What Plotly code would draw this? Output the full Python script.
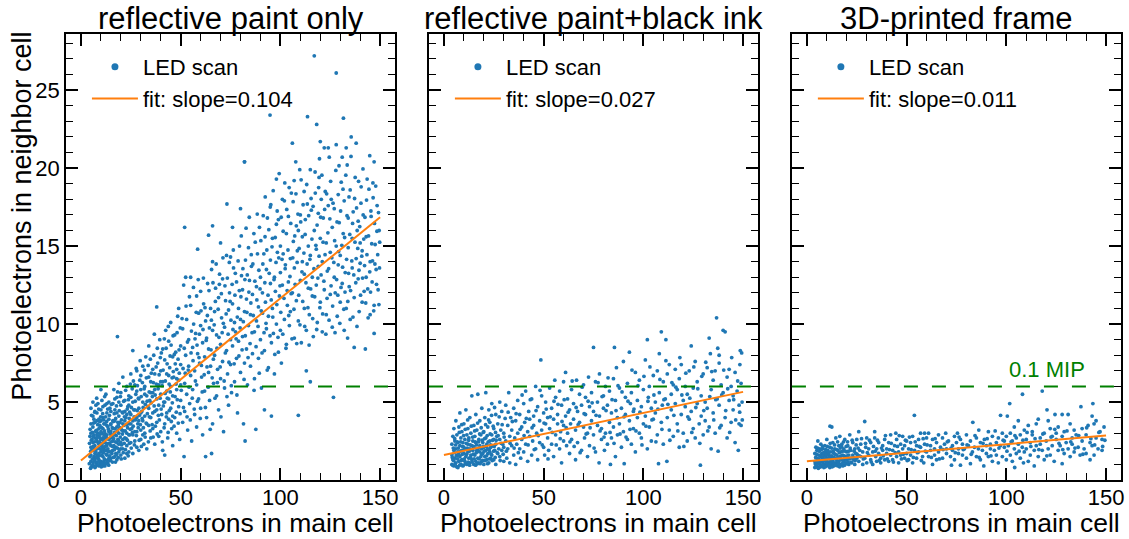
import plotly.graph_objects as go

# ---------------- data ----------------
titles = ["reflective paint only", "reflective paint+black ink", "3D-printed frame"]
slopes = [0.104, 0.027, 0.011]
intercepts = [1.25, 1.6, 1.2]
fit_x = [0, 150]
mip_level = 6.0
mip_label = "0.1 MIP"
x_ticks = [0, 50, 100, 150]
y_ticks = [0, 5, 10, 15, 20, 25]

pts_paint = [
    (5,1.2),(5,2.1),(5,3.0),(5,1.6),(5,4.6),(5.5,2.6),(5.5,0.9),(6,1.9),(6,3.4),(6,2.4),(6,1.1),(6,4.1),(6.5,2.9),(6.5,1.5),
    (7,2.2),(7,3.7),(7,1.3),(7,0.8),(7,2.7),(7.5,4.8),(7.5,1.8),(8,2.5),(8,3.2),(8,1.0),(8,2.0),(8,4.3),(8.5,1.4),(8.5,3.0),
    (9,2.3),(9,1.7),(9,3.9),(9,2.8),(9,0.9),(9.5,2.0),(9.5,3.5),(10,1.2),(10,2.6),(10,4.5),(10,3.1),(10,1.8),(10.5,2.2),(10.5,5.1),
    (11,1.5),(11,3.3),(11,2.7),(11,0.9),(11,4.0),(11.5,2.0),(11.5,3.6),(12,1.3),(12,2.4),(12,4.8),(12,3.0),(12,1.9),(12.5,2.8),(12.5,5.5),
    (13,1.6),(13,3.5),(13,2.2),(13,4.3),(13.5,1.1),(14,2.6),(14,3.9),(14,1.8),(14,5.0),(14.5,3.1),(15,2.2),(15,4.4),(15,1.4),(15,3.6),
    (15.5,2.8),(16,1.9),(16,4.9),(16,3.3),(16,2.5),(16.5,5.8),(17,1.5),(17,3.8),(17,2.9),(17,4.5),(17.5,2.1),(18,3.4),(18,1.3),(18,5.3),
    (18.3,9.2),(18.5,2.6),(19,4.1),(19,3.0),(19,1.8),(19,6.2),(19.5,3.7),(20,2.4),(20,4.8),(20,1.6),(20,5.6),(20.5,3.2),(21,2.0),(21,4.3),
    (21,6.6),(21.5,3.5),(22,2.7),(22,5.1),(22,1.4),(22.5,4.0),(23,3.0),(23,6.0),(23,2.2),(23.5,4.7),(24,3.6),(24,1.8),(24,5.4),(24.5,2.9),
    (4.5,1.5),(4.5,2.8),(5,0.8),(5,3.6),(5.5,1.9),(6,0.9),(6,2.8),(6,5.0),(6.5,3.9),(6.5,2.0),(7,1.7),(7,4.4),(7.5,3.1),(7.5,1.1),
    (8,2.9),(8,1.6),(8,3.8),(8.5,2.4),(8.5,4.9),(9,1.3),(9,3.3),(9.5,2.7),(9.5,1.0),(10,2.2),(10,3.8),(10,5.8),(10.5,1.6),(10.5,3.0),
    (11,2.1),(11,4.7),(11.5,1.2),(11.5,2.9),(12,2.7),(12,3.6),(12,0.9),(12.5,1.9),(13,2.9),(13,4.9),(13.5,3.4),(13.5,2.0),(14,1.4),(14,3.1),
    (14.5,4.6),(15,2.7),(15,3.1),(15.5,1.7),(16,2.9),(16,3.8),(16.5,2.2),(17,3.3),(17,5.2),(17.5,1.7),(18,2.4),(18,4.3),(18.5,3.7),(19,2.3),
    (19,5.0),(20,3.3),(20,2.0),(21,3.6),(21,2.6),(22,3.8),(22,4.4),(23,1.7),(23,4.2),(24,2.9),(24,4.8),(25,3.6),(25,5.3),(26,2.9),
    (26,3.8),(27,4.5),(28,3.1),(28,5.7),(29,3.8),(30,4.3),(30,6.7),(31,2.9),(32,5.5),(33,3.6),(34,4.6),(35,5.6),(36,4.3),(37,5.8),
    (38,4.5),(40,6.3),(42,5.0),(44,6.7),(46,4.1),(48,6.5),(50,6.1),
    (4.2,1.05),(4.3,2.35),(4.6,3.25),(4.8,0.75),(4.9,1.85),(5.2,2.55),(5.3,4.15),(5.7,1.35),(5.8,3.05),(6.1,0.95),(6.2,2.15),(6.3,3.65),
    (6.7,1.25),(6.8,2.45),(6.9,4.35),(7.2,0.85),(7.3,1.95),(7.4,3.15),(7.7,2.65),(7.8,1.45),(7.9,5.25),(8.2,1.15),(8.3,2.75),(8.4,3.55),
    (8.7,0.95),(8.8,2.05),(8.9,4.55),(9.2,1.55),(9.3,2.45),(9.4,3.75),(9.7,1.15),(9.8,2.95),(9.9,4.05),(10.2,0.85),(10.3,1.95),(10.4,3.35),
    (10.7,2.35),(10.8,1.05),(10.9,4.25),(11.2,1.75),(11.3,2.55),(11.4,3.85),(11.7,1.35),(11.8,3.15),(11.9,5.35),(12.2,2.15),(12.3,1.05),(12.4,4.05),
    (12.7,1.65),(12.8,2.35),(12.9,3.75),(13.2,1.25),(13.3,2.65),(13.4,4.55),(13.7,1.85),(13.8,3.25),(13.9,0.95),(14.2,2.35),(14.3,4.15),(14.4,1.55),
    (14.7,2.95),(14.8,1.25),(14.9,3.55),(15.2,2.45),(15.3,4.85),(15.4,1.85),(15.7,3.35),(15.8,1.15),(15.9,2.15),(16.2,3.75),(16.3,1.45),(16.4,2.65),
    (16.7,4.25),(16.8,1.95),(16.9,3.05),(17.2,2.45),(17.3,1.15),(17.4,3.95),(17.7,2.85),(17.8,4.75),(17.9,1.65),(18.2,3.15),(18.3,2.05),(18.4,5.65),
    (18.7,1.45),(18.8,3.55),(18.9,2.55),(19.2,4.45),(19.3,1.95),(19.4,3.35),(19.7,2.75),(19.8,5.35),(20.2,1.35),(20.3,3.85),(20.4,2.25),(20.7,4.35),
    (20.8,2.95),(21.2,1.75),(21.3,3.15),(21.4,5.05),(21.7,2.35),(21.8,4.05),(22.2,3.15),(22.3,1.95),(22.4,5.75),(22.7,2.65),(22.8,3.55),(23.2,4.55),
    (23.3,2.55),(23.4,3.35),(23.7,1.55),(23.8,5.15),(24.2,3.95),(24.3,2.35),(24.4,4.35),(24.7,3.25),(24.8,6.15),
    (25,4.2),(25,6.8),(25,2.4),(25.5,3.3),(26,5.0),(26,8.3),(26,1.7),(26.5,4.5),(27,3.1),(27,6.1),(27,2.5),(27.5,5.5),(28,4.0),(28,7.0),
    (28,2.1),(28.5,3.6),(29,5.2),(29,4.6),(29,1.9),(29.5,6.4),(30,3.2),(30,5.8),(30,2.6),(30.5,4.4),(31,7.3),(31,3.8),(31,5.0),(31.5,2.3),
    (32,6.0),(32,4.1),(32,3.0),(32.5,7.9),(33,5.4),(33,2.0),(33.5,4.7),(34,6.6),(34,3.5),(34,8.6),(34.5,5.1),(35,2.7),(35,4.0),(35,6.3),
    (36,7.1),(36,3.3),(36,5.6),(36.5,8.0),(37,4.4),(37,2.3),(37,6.8),(38,11.1),(38,5.2),(38,3.7),(38.5,7.5),(39,4.8),(39,6.1),(39,2.8),
    (39.5,9.0),(40,5.5),(40,3.1),(40,7.0),(40.5,4.2),(41,8.4),(41,6.3),(41,1.9),(41.5,5.0),(42,3.6),(42,7.7),(42,1.6),(42.5,9.6),(43,5.7),
    (43,4.3),(43,6.8),(43.5,2.7),(44,8.9),(44,5.2),(44,3.9),(44.5,7.2),(45,6.0),(45,4.6),(45,10.1),(45.5,3.3),(46,7.9),(46,5.4),(46,2.2),
    (46.5,6.6),(47,9.3),(47,4.0),(47.5,8.2),(48,5.8),(48,3.0),(48,7.1),(48.5,10.5),(49,11.0),(49,4.7),(49,6.4),(49.5,2.6),(50,8.6),(50,5.1),
    (25.2,2.05),(25.3,4.65),(25.7,5.85),(25.8,3.05),(26.2,3.45),(26.3,6.35),(26.7,4.05),(26.8,2.25),(27.2,5.05),(27.3,3.85),(27.7,7.15),(27.8,2.85),
    (28.2,4.45),(28.3,6.05),(28.7,3.35),(28.8,5.25),(29.2,2.55),(29.3,4.15),(29.7,7.65),(29.8,3.55),(30.2,5.35),(30.3,2.15),(30.7,3.95),(30.8,6.25),
    (31.2,4.65),(31.3,3.35),(31.7,5.85),(31.8,7.05),(32.2,2.75),(32.3,4.85),(32.7,3.65),(32.8,6.55),(33.2,5.05),(33.3,4.25),(33.7,7.35),(33.8,2.45),
    (34.2,5.65),(34.3,4.05),(34.7,3.15),(34.8,7.75),(35.2,4.95),(35.3,6.85),(35.7,3.55),(35.8,5.35),(36.2,2.75),(36.3,6.25),(36.7,4.75),(36.8,9.35),
    (37.2,5.45),(37.3,3.45),(37.7,7.25),(37.8,6.15),(38.2,2.95),(38.3,8.45),(38.7,5.85),(38.8,4.15),(39.2,6.75),(39.3,3.85),(39.7,5.25),(39.8,7.85),
    (40.2,4.55),(40.3,8.15),(40.7,6.05),(40.8,2.45),(41.2,7.05),(41.3,4.75),(41.7,3.35),(41.8,9.05),(42.2,5.55),(42.3,6.35),(42.7,8.45),(42.8,4.05),
    (43.2,7.45),(43.3,5.25),(43.7,3.05),(43.8,9.85),(44.2,6.15),(44.3,4.45),(44.7,7.95),(44.8,5.65),(45.2,8.65),(45.3,3.75),(45.7,6.55),(45.8,4.95),
    (46.2,9.25),(46.3,6.95),(46.7,3.45),(46.8,8.05),(47.2,5.35),(47.3,7.45),(47.7,6.15),(47.8,4.35),(48.2,9.45),(48.3,5.15),(48.7,7.75),(48.8,3.65),
    (49.2,8.35),(49.3,6.85),(49.7,4.25),(49.8,9.75),
    (50,7.4),(51,3.7),(51,9.7),(51.5,12.5),(51.7,1.5),(52,6.2),(52,4.4),(52.5,13.0),(52.5,8.0),(53,10.3),(53,5.5),(53.5,3.2),(54,7.3),(54,9.0),
    (54.5,4.9),(55,13.0),(55,6.7),(55,11.2),(55.5,2.5),(56,8.5),(56,5.8),(56.5,10.0),(57,7.0),(57,4.2),(57.5,9.4),(58,6.1),(58,11.8),(58,3.4),
    (58.5,8.1),(59,5.2),(59,10.7),(59.5,7.5),(60,9.9),(60,4.6),(60,12.1),(60.5,6.6),(61,8.8),(61,2.9),(61.5,11.3),(62,5.7),(62,7.9),(62.5,1.5),
    (62.5,10.2),(63,9.1),(63,4.0),(63.5,12.6),(64,6.9),(64,8.4),(64.5,5.1),(65,11.0),(65,7.3),(65.5,13.5),(65.5,1.7),(66,14.0),(66,9.6),(66,3.6),
    (52,16.2),(73.2,17.7),(64,15.7),(66,16.3),(70,15.2),(58.5,14.8),(76,16.2),
    (50.3,5.75),(50.7,10.35),(51.2,7.15),(51.4,4.65),(51.8,8.45),(52.3,6.85),(52.7,11.15),(53.2,4.05),(53.4,8.85),(53.8,7.05),(54.2,5.95),(54.4,11.75),
    (54.8,3.85),(55.2,8.15),(55.4,9.55),(55.8,5.25),(56.2,7.65),(56.4,12.35),(56.8,4.55),(57.2,9.05),(57.4,6.35),(57.8,10.75),(58.2,8.65),(58.4,5.05),
    (58.8,12.85),(59.2,7.85),(59.4,9.35),(59.8,3.95),(60.2,10.85),(60.4,7.35),(60.8,5.65),(61.2,9.65),(61.4,12.95),(61.8,6.75),(62.2,11.05),(62.4,4.65),
    (62.8,8.95),(63.2,7.25),(63.4,10.55),(63.8,5.95),(64.2,12.15),(64.4,9.75),(64.8,3.25),(65.2,8.35),(65.4,10.25),(65.8,6.55),(66.2,12.65),(66.4,7.75),
    (66.8,9.95),(67.2,5.25),(67.4,11.45),(67.8,13.85),(68.2,8.45),(68.4,6.25),(68.8,10.95),(69.2,9.15),(69.4,12.55),(69.8,7.25),(70.2,4.05),(70.4,11.95),
    (70.8,9.45),(71.2,14.25),(71.4,10.05),(71.8,6.35),(72.2,12.45),(72.4,8.15),(72.8,10.65),(73.2,5.35),(73.4,12.95),(73.8,9.35),(74.2,7.55),(74.4,13.95),
    (74.8,11.45),(75.2,10.25),(75.4,6.05),(75.8,12.55),(76.2,9.65),(76.4,14.75),(76.8,7.45),(77.2,11.85),(77.4,13.25),(77.8,9.05),(78.2,5.45),(78.4,10.45),
    (78.8,14.05),(79.2,7.95),(79.4,12.15),(79.8,9.75),(80.2,11.75),(80.4,15.65),(80.8,8.35),(81.2,13.55),(81.4,10.15),(81.8,6.45),(82.2,12.85),(82.4,9.25),
    (82.8,16.15),(83.2,10.75),(83.4,13.15),(83.8,7.85),(84.2,12.05),(84.4,16.85),(84.8,8.75),(85.2,11.35),(85.4,14.45),(85.8,9.45),(86.2,13.85),(86.4,10.55),
    (86.8,5.75),(87.2,12.75),(87.4,15.25),(87.8,8.55),(88.2,11.55),(88.4,17.05),(88.8,9.85),(89.2,13.45),(89.4,6.85),(89.8,12.25),
    (66.5,6.2),(67,10.8),(67,8.0),(67.5,12.3),(68,5.4),(68,9.3),(68.5,7.1),(69,11.7),(69,4.5),(69.5,13.2),(70,8.7),(70,6.5),(70.5,10.4),(71,12.9),
    (71,7.6),(71.5,3.1),(72,9.8),(72,5.9),(72.5,11.5),(73,8.3),(73,14.4),(73.5,6.8),(74,10.9),(74,4.8),(74.5,12.0),(75,9.0),(75,7.4),(75,14.3),
    (75.5,5.6),(76,11.3),(76,8.6),(76.5,13.6),(77,6.3),(77,10.1),(77.5,9.5),(78,12.7),(78,7.8),(78.5,4.3),(79,11.0),(79,8.9),(79.5,15.0),(80,10.3),
    (80,6.9),(80,17.4),(80.5,13.1),(81,9.2),(81,12.2),(81.5,3.6),(82,20.4),(82,10.8),(82,7.5),(82.3,2.5),(82.5,14.1),(83,8.4),(83,11.6),(83.5,6.1),
    (84,14.9),(84,9.9),(84.5,12.8),(85,7.3),(85,10.6),
    (85.5,13.7),(86,8.1),(86,11.9),(86.7,15.8),(87,6.5),(87,9.5),(87.7,3.25),(88,12.4),(88,10.2),(88.5,14.5),(89,7.8),(89,11.1),(89.5,16.2),(90,9.0),
    (90,13.0),(90.5,5.9),(91,10.7),(91,12.0),(91.7,14.5),(92,8.3),(92,4.5),(92.3,15.6),(92.5,11.4),(93,9.7),(93,13.5),(93.5,16.8),(94,7.2),(94,10.5),
    (94.9,17.5),(95,12.6),(95,14.1),(95.5,4.1),(95.5,8.8),(96,11.0),(96,15.5),(96.5,9.4),(97,13.0),(97,6.8),(97.5,12.1),(98,16.4),(98,19.3),(98,10.0),
    (98.5,14.6),(99,8.2),(99,16.7),(99.5,11.8),(100,13.3),(100,9.6),(100,15.0),(100.5,7.5),(101,12.5),(101,18.0),(101.4,14.5),(102,17.9),(102,10.3),(102.5,13.8),
    (103,8.7),(103,15.8),(103.5,11.2),(104,16.9),(104,12.7),(104.5,9.9),(105,14.2),(105,10.8),
    (90.2,15.35),(90.4,10.85),(90.8,8.15),(91.2,13.85),(91.4,16.95),(91.8,9.45),(92.2,12.65),(92.4,18.15),(92.8,10.05),(93.2,14.75),(93.4,7.05),(93.8,11.85),
    (94.2,16.05),(94.4,13.25),(94.8,9.25),(95.2,17.65),(95.4,11.55),(95.8,14.95),(96.2,10.45),(96.4,18.55),(96.8,12.85),(97.2,8.05),(97.4,15.55),(97.8,13.95),
    (98.2,11.25),(98.4,17.25),(98.8,9.15),(99.2,14.25),(99.4,19.65),(99.8,12.45),(100.2,10.75),(100.4,16.85),(100.8,14.15),(101.2,9.35),(101.4,15.95),(101.8,11.65),
    (102.2,19.05),(102.4,13.55),(102.8,8.45),(103.2,17.35),(103.4,12.15),(103.8,14.75),(104.2,10.55),(104.4,18.75),(104.8,13.05),(105.2,16.45),(105.4,11.95),(105.8,9.05),
    (106.2,14.25),(106.4,17.85),(106.8,10.95),(107.2,15.65),(107.4,12.55),(107.8,18.35),(108.2,8.75),(108.4,13.95),(108.8,17.05),(109.2,11.85),(109.4,14.85),(109.8,9.95),
    (110.2,16.55),(110.4,19.25),(110.8,13.35),(111.2,11.45),(111.4,17.65),(111.8,14.55),(112.2,9.85),(112.4,15.75),(112.8,12.65),(113.2,18.95),(113.4,13.85),(113.8,11.05),
    (114.2,16.95),(114.4,8.65),(114.8,14.15),(115.2,12.25),(115.4,18.05),(115.8,15.45),(116.2,10.35),(116.4,17.55),(116.8,13.55),(117.2,11.75),(117.4,19.75),(117.8,15.05),
    (118.2,9.65),(118.4,16.35),(118.8,12.95),(119.2,18.75),(119.4,14.35),(119.8,11.05),(120.2,16.85),(120.4,13.15),(120.8,19.55),(121.2,10.65),(121.4,15.25),(121.8,12.75),
    (122.2,17.35),(122.4,14.45),(122.8,9.35),(123.2,18.35),(123.4,11.65),(123.8,15.85),(124.2,13.55),(124.4,10.25),(124.8,16.75),(125.2,19.15),(125.4,12.45),(125.8,14.25),
    (126.2,11.15),(126.4,17.75),(126.8,13.95),(127.2,15.35),(127.4,9.45),(127.8,19.85),(128.2,12.85),(128.4,16.55),(128.8,11.85),(129.2,14.65),(129.4,20.15),(129.8,10.05),
    (130.2,17.25),(130.4,12.35),(130.8,15.05),(131.2,13.65),(131.4,18.65),(131.8,10.95),(132.2,15.55),(132.4,12.05),(132.8,19.55),(133.2,14.15),(133.4,16.95),(133.8,11.45),
    (134.2,13.25),(134.4,18.15),(134.8,15.75),(135.2,12.15),(135.4,20.75),(135.8,14.05),(136.2,16.45),(136.4,10.45),(136.8,13.15),(137.2,18.05),(137.4,15.25),(137.8,12.65),
    (138.2,17.45),(138.4,9.85),(138.8,14.85),(139.2,19.15),(139.4,13.45),(139.8,16.25),(140.2,11.85),(140.4,17.75),(140.8,14.35),(141.2,12.95),(141.4,19.95),(141.8,15.45),
    (142.2,13.75),(142.4,16.85),(142.8,11.35),(143.2,17.95),(143.4,14.45),(143.8,12.25),(144.2,15.65),(144.4,18.65),(144.8,13.35),(145.2,12.05),(145.4,17.25),(145.8,15.15),
    (146.2,14.05),(146.4,19.05),(146.8,10.85),(147.2,16.45),(147.4,13.85),(147.8,18.85),(148.2,12.55),(148.4,15.95),(148.8,14.45),(149.2,17.15),(149.4,11.25),(149.8,15.25),
    (105.5,18.4),(106,21.6),(106,12.0),(106.5,15.3),(106.9,19.2),(107,9.1),(107,13.6),(107.7,20.4),(108,16.3),(108,11.5),(108.5,14.7),(109,4.15),(109,10.2),(109,16.0),
    (109.7,19.9),(110,12.8),(110,17.0),(110.5,8.8),(111,14.0),(111,15.6),(111.9,18.5),(112,11.0),(112,13.2),(112.5,16.7),(113,7.0),(113,9.6),(113.5,17.7),(114,12.3),
    (114,15.0),(114.5,10.6),(115,19.9),(115,6.3),(115,14.4),(115.5,17.3),(116,11.8),(116,13.0),(116.5,9.2),(117,27.2),(117,16.0),(117.5,18.4),(118,12.5),(118,14.8),
    (118.2,22.8),(118.5,10.1),(119,17.1),(119,13.7),(119.4,19.4),(119.6,20.6),(120,11.4),(120,15.5),(120,21.7),(120.5,18.0),(121,9.5),(121,14.0),(121.5,16.8),(122,21.3),
    (122,12.2),(122.5,18.5),(123,10.6),(123,15.2),(123.5,13.4),(124,21.3),(124,17.6),(124.5,20.7),(125,11.9),(125,14.6),
    (125.5,18.0),(126,9.8),(126,16.2),(126.6,5.3),(127,13.0),(127,17.4),(127.5,12.0),(128,21.5),(128,26.1),(128,15.0),(128.5,10.5),(129,18.3),(129,13.8),(129.5,16.5),
    (130,11.4),(130,14.4),(130.5,19.1),(131,20.7),(131,12.6),(131.5,15.8),(132,9.6),(132,17.9),(132.5,13.3),(133,21.3),(133,11.0),(133.5,20.2),(133.7,9.1),(134,14.9),
    (134,16.8),(134.5,12.4),(135,18.6),(135.5,22.0),(135,10.3),(136,15.5),(136,13.6),(136.5,17.2),(137,8.5),(137,11.7),(137.5,19.4),(138,21.6),(138,14.2),(138.5,16.0),
    (139,12.9),(139,16.6),(139.5,10.8),(140,15.2),(140,13.9),(140.5,18.8),(141,11.4),(141,14.7),(141.5,17.0),(142,12.1),(142.6,8.4),(143,15.6),(143,13.0),(143.5,19.3),
    (144,10.4),(144.8,20.8),(145,10.6),(145,14.0),(145.5,16.9),(146,12.7),(146.5,18.1),(147,20.4),(147,11.2),(147,9.4),(147.5,15.1),(148,13.5),(148.5,17.6),(149,12.2),
    (149.7,13.6),(149.5,16.0),(131.6,23.2),(113.6,23.3),(94.8,23.4),(82,20.4),
]

pts_ink = [
    (4,1.0),(4,1.6),(4,2.3),(4.5,1.3),(4.5,2.8),(5,0.9),(5,1.9),(5,3.3),(5.5,1.4),(5.5,2.5),(6,1.1),(6,2.0),(6,3.8),(6.5,1.6),(6.5,2.9),
    (7,0.8),(7,1.8),(7,2.4),(7.5,1.2),(7.5,3.4),(8,1.5),(8,2.2),(8,4.3),(8.5,1.0),(8.5,2.7),(9,1.9),(9,1.3),(9,3.1),(9.5,2.4),(9.5,0.9),
    (10,1.7),(10,2.1),(10,3.6),(10.5,1.2),(10.5,2.6),(11,1.5),(11,2.0),(11,4.5),(11.5,2.9),(11.5,1.0),(12,1.8),(12,2.3),(12,3.3),(12.5,1.4),
    (12.5,2.7),(13,1.1),(13,2.0),(13,4.0),(13.5,1.6),(13.5,3.0),(14,2.2),(14,1.3),(14,5.4),(14.5,2.5),(14.5,1.9),(15,1.0),(15,3.5),(15,2.1),
    (15.5,1.6),(15.5,2.8),(16,1.2),(16,2.4),(16,4.2),(16.5,1.9),(16.5,3.2),(17,1.4),(17,2.0),(17,5.5),(17.5,2.6),(17.5,1.1),(18,1.8),(18,2.2),
    (18,3.8),(18.5,1.5),(18.5,2.9),(19,2.0),(19,1.2),(19,4.6),(19.5,2.4),(19.5,1.7),(20,1.0),(20,3.1),(20,2.1),(20.5,1.5),(20.5,4.0),(21,2.7),
    (21,1.9),(21,5.6),(21.5,1.3),(21.5,2.3),(22,3.4),(22,1.7),(22,2.0),(22.5,4.5),(22.5,1.1),(23,2.5),(23,1.8),(23,3.7),(23.5,2.1),(23.5,1.4),
    (24,2.9),(24,4.9),(24,1.6),(24.5,2.2),(25,3.3),(25,1.3),(25,2.6),(25.5,1.9),(26,4.2),(26,2.3),(26,1.0),(26.5,2.8),(27,1.7),(27,3.6),
    (27.5,2.0),(28,5.0),(28,1.5),(28,2.6),(28.5,3.2),(29,1.9),(29,4.4),(29.5,2.3),(30,1.2),(30,3.0),(30,2.1),
    (4.2,1.45),(4.4,0.95),(4.7,2.05),(4.9,1.25),(5.2,1.75),(5.4,2.65),(5.7,1.05),(5.9,2.25),(6.2,1.55),(6.4,0.85),(6.7,2.45),(6.9,1.35),
    (7.2,2.05),(7.4,1.65),(7.7,3.05),(7.9,0.95),(8.2,1.85),(8.4,2.45),(8.7,1.25),(8.9,3.55),(9.2,1.65),(9.4,2.15),(9.7,0.95),(9.9,2.85),
    (10.2,1.35),(10.4,1.95),(10.7,3.25),(10.9,1.05),(11.2,2.35),(11.4,1.65),(11.7,2.05),(11.9,3.85),(12.2,1.15),(12.4,2.55),(12.7,1.85),(12.9,0.95),
    (13.2,2.25),(13.4,1.45),(13.7,3.45),(13.9,1.95),(14.2,1.15),(14.4,2.75),(14.7,1.65),(14.9,2.15),(15.2,1.35),(15.4,3.15),(15.7,2.45),(15.9,0.95),
    (16.2,1.75),(16.4,2.25),(16.7,1.05),(16.9,3.65),(17.2,1.85),(17.4,2.45),(17.7,1.35),(17.9,2.95),(18.2,1.05),(18.4,2.05),(18.7,3.35),(18.9,1.65),
    (19.2,2.55),(19.4,1.25),(19.7,3.05),(19.9,2.15),(20.2,1.85),(20.4,2.65),(20.7,1.25),(20.9,3.55),(21.2,2.15),(21.4,1.55),(21.7,2.85),(21.9,1.05),
    (22.2,2.45),(22.4,3.85),(22.7,1.95),(22.9,1.35),(23.2,2.95),(23.4,2.25),(23.7,1.65),(23.9,4.15),(24.2,1.25),(24.4,2.55),(24.7,3.45),(24.9,1.85),
    (25.2,2.15),(25.4,4.65),(25.7,1.45),(25.9,3.05),(26.2,2.55),(26.7,1.75),(27.2,2.85),(27.7,4.05),(28.2,1.25),(28.7,2.35),(29.2,3.55),(29.7,1.65),
    (30.2,2.75),(30.7,3.95),
    (31,4.8),(31,2.5),(31.5,1.4),(32,3.5),(32,2.0),(32.5,5.6),(33,1.1),(33,2.8),(33.5,4.0),(34,2.2),(34,3.2),(35,1.6),(35,4.6),(35.5,2.7),
    (36,3.8),(36,1.0),(36.5,2.3),(37,5.1),(37,3.0),(38,2.0),(38,4.2),(38.5,1.4),(39,3.4),(39,2.6),(40,4.9),(40,1.8),(40.5,3.7),(41,2.3),
    (41,5.7),(42,3.1),(42,1.2),(42.5,4.4),(43,2.8),(43,3.9),(44,1.6),(44,5.2),(44.5,2.5),(45,3.5),(45,4.1),(46,2.0),(46,6.0),(46.5,3.0),
    (47,1.3),(47,4.7),(48,3.8),(48,2.4),(48.6,7.7),(49,5.4),(49,3.2),(50,2.1),(50,4.3),(50.5,1.6),(51,3.6),(51,5.0),(52,2.7),(52,4.0),
    (52.5,1.9),(53,5.9),(53,3.3),(54,2.3),(54,4.6),(55,3.9),(55,1.5),(55.6,6.4),(56,2.9),(56,5.3),(57,3.6),(57,4.2),(58,2.0),(58,5.7),
    (58.5,3.1),(59,4.8),(59,1.1),(60,6.3),(60,3.5),(60,2.5),
    (31.3,1.85),(32.2,4.35),(33.2,2.35),(34.3,3.75),(35.2,2.05),(36.2,4.25),(37.3,1.75),(38.2,3.25),(39.2,5.45),(40.2,2.85),(41.3,3.95),(42.2,2.25),
    (43.3,5.15),(44.2,3.35),(45.3,1.95),(46.2,4.45),(47.3,2.85),(48.2,5.75),(49.3,2.25),(50.2,3.65),(51.3,4.55),(52.2,1.35),(53.3,4.05),(54.3,3.05),
    (55.2,5.05),(56.3,2.25),(57.2,4.85),(58.3,2.65),(59.2,3.75),(60.3,5.15),(61.3,3.35),(62.3,4.35),(63.2,2.45),(64.3,6.35),(65.3,2.15),(66.3,4.65),
    (67.3,3.55),(68.3,1.75),(69.3,5.95),(70.3,4.25),(71.3,2.95),(72.3,5.05),(73.3,3.35),(74.3,4.95),(75.3,2.05),(76.3,4.15),(77.3,6.25),(78.3,3.15),
    (79.3,5.35),(80.3,2.75),(81.3,4.45),(82.3,6.55),(83.3,3.05),(84.3,5.15),(85.3,2.35),(86.3,4.45),(87.3,6.05),(88.3,2.95),(89.3,5.65),(90.3,4.05),
    (91.3,2.75),(92.3,5.05),(93.3,3.25),(94.3,7.05),(95.3,4.55),(96.3,3.15),(97.3,6.05),(98.3,4.35),(99.3,2.25),(100.3,6.65),(101.3,3.45),(102.3,5.05),
    (103.3,7.25),(104.3,3.85),(105.3,5.45),(106.3,2.45),(107.3,4.55),(108.3,6.45),(109.3,3.25),(110.3,5.15),(111.3,7.65),(112.3,4.85),(113.3,2.55),(114.3,6.25),
    (115.3,4.15),(116.3,5.95),(117.3,3.15),(118.3,7.85),(119.3,5.45),(120.3,2.15),(121.3,6.85),(122.3,4.05),(123.3,5.25),(124.3,3.05),(125.3,7.25),(126.3,4.65),
    (127.3,5.85),(128.3,2.35),(129.3,6.65),(130.3,4.45),(131.3,7.55),(132.3,3.15),(133.3,5.35),(134.3,6.95),(135.3,3.85),(136.3,5.15),(137.3,8.45),(138.3,3.35),
    (139.3,5.45),(140.3,7.05),(141.3,4.45),(142.3,5.85),(143.3,3.05),(144.3,7.85),(145.3,5.15),(146.3,3.85),(147.3,6.35),(148.3,4.35),(149.3,8.15),(149.6,3.85),
    (61,6.9),(61,4.1),(61.5,2.2),(62,3.0),(62,5.2),(63,1.7),(63,4.5),(63.5,3.6),(64,2.6),(64,5.8),(65,3.9),(65,4.9),(66,1.3),(66,3.2),
    (66.5,6.4),(67,4.4),(67,2.4),(68,5.5),(68,3.7),(69,1.9),(69,4.8),(70,3.4),(70,6.1),(70.5,2.7),(71,4.2),(71,5.3),(72,1.5),(72,3.0),
    (72.5,6.6),(73,4.7),(73,2.2),(74,3.8),(74,5.6),(75,8.5),(75,2.9),(75,4.4),(76,6.3),(76,1.8),(77,3.5),(77,5.0),(77.8,1.1),(78,4.1),
    (78,6.8),(79,2.6),(79,3.3),(80,5.4),(80,4.6),(80.5,1.9),(81,3.0),(81,6.0),(82,4.8),(82,2.3),(83,3.7),(83,5.7),(83.5,1.0),(84,4.3),
    (84,2.7),(85,6.5),(85,3.4),(85.5,8.5),(86,5.1),(86,1.5),(86.5,7.2),(87,4.0),(87,2.9),(88,5.9),(88,3.6),(89,2.1),(89,4.6),(90,7.6),
    (90,3.1),(90.4,1.05),(91,5.3),(91,4.2),(92,2.6),(92,6.2),(93,3.8),(93,8.2),(93.5,4.9),(94,2.3),(94,5.6),(95,3.3),(95,4.4),(96,6.9),
    (96,1.8),(97,4.0),(97,5.1),(98,3.0),(98,6.4),(99,2.7),(99,4.7),(100,5.8),(100,3.6),
    (101,7.7),(101,4.1),(102,9.0),(102,2.0),(102.5,5.3),(103,3.4),(103,6.0),(104,4.6),(104,2.5),(105,6.7),(105,3.9),(106,5.0),(106,4.3),
    (107,2.9),(107,7.0),(107.6,1.05),(108,8.1),(108,5.6),(109,9.5),(109,3.7),(109.5,4.8),(110,6.3),(110,2.3),(111,5.2),(111.3,9.0),(111.8,1.2),
    (112,4.0),(112,6.8),(113,7.4),(113,3.2),(114,5.5),(114,4.5),(115,2.8),(115,6.1),(116,7.1),(116,4.9),(117,3.6),(117,5.8),(118,2.1),
    (118,6.5),(119,7.4),(119,4.2),(120,5.1),(120,3.0),(121,6.0),(121,4.7),(122,2.5),(122,5.5),(123,3.9),(123,7.0),(124,8.6),(124,4.4),
    (125,5.9),(125,3.3),(126,7.6),(126,2.7),(127,4.9),(127,6.3),(128,3.6),(128.6,0.95),(129,5.4),(129,4.1),(130,6.8),(130,2.9),(131,5.0),
    (131,3.8),(132,7.2),(132,4.6),(133,9.1),(133.6,8.1),(133,3.4),(134,2.0),(134,5.8),(135,6.4),(135,4.3),(136,3.0),(136,7.0),(136.7,10.4),
    (137,5.2),(137.5,1.85),(138,8.0),(138,7.5),(138,4.8),(139,6.1),(139,3.5),(140,9.6),(140,5.6),(141,9.5),(141,4.0),(142,6.6),(142,2.7),
    (143,5.1),(143,7.1),(144,3.7),(144,6.0),(145,4.5),(145,5.4),(146,2.4),(146,6.9),(147,5.7),(147.6,1.9),(148,3.6),(148.4,7.4),(148.6,8.3),
    (148,4.8),(149,3.5),(149,6.2),(149.5,5.0),
]

pts_frame = [
    (4,0.8),(4,1.2),(4,1.7),(4.5,1.0),(4.5,2.1),(5,0.9),(5,1.4),(5,1.9),(5.5,1.1),(5.5,2.5),(6,0.8),(6,1.3),(6,1.6),(6.5,1.0),(6.5,2.0),
    (7,1.2),(7,1.5),(7,2.3),(7.5,0.9),(7.5,1.7),(8,1.1),(8,1.4),(8,2.0),(8.5,0.8),(8.5,1.6),(9,1.3),(9,1.0),(9,2.2),(9.5,1.5),(9.5,1.8),
    (10,0.9),(10,1.2),(10,2.6),(10.5,1.4),(10.5,1.9),(11,1.1),(11,1.6),(11.6,3.45),(11.5,2.1),(11.5,0.8),(12,1.3),(12,1.8),(12.5,3.4),(12.5,1.0),
    (12.5,1.5),(13,2.4),(13,1.2),(13.5,1.7),(13.5,0.9),(14,1.4),(14,2.0),(14.5,1.1),(14.5,2.7),(15,1.6),(15,1.3),(15.5,0.9),(15.5,1.9),(16,2.2),
    (16,1.2),(16.5,1.5),(16.5,2.8),(17,1.0),(17,1.8),(17.5,1.3),(17.5,2.3),(18,1.6),(18,0.9),(18.5,2.0),(18.5,1.2),(19,1.5),(19,2.6),(19.5,1.1),
    (20,1.8),(20,1.3),(20.5,2.2),(21,1.0),(21,1.6),(21.5,2.9),(22,1.4),(22,1.9),(22.5,1.1),(23,2.4),(23,1.6),(23.5,1.3),(24,2.0),(24,1.0),
    (24.5,1.7),(25,2.6),(25,1.4),
    (4.2,1.05),(4.4,1.45),(4.7,0.85),(4.9,1.65),(5.2,1.15),(5.4,2.05),(5.7,0.75),(5.9,1.35),(6.2,1.85),(6.4,1.05),(6.7,1.55),(6.9,0.85),
    (7.2,1.95),(7.4,1.25),(7.7,1.45),(7.9,2.15),(8.2,0.95),(8.4,1.75),(8.7,1.25),(8.9,1.55),(9.2,0.85),(9.4,1.95),(9.7,1.15),(9.9,1.65),
    (10.2,2.15),(10.4,1.05),(10.7,1.35),(10.9,1.75),(11.2,0.95),(11.4,1.45),(11.7,2.35),(11.9,1.15),(12.2,1.55),(12.4,2.05),(12.7,0.85),(12.9,1.25),
    (13.2,1.85),(13.4,1.45),(13.7,1.05),(13.9,2.25),(14.2,1.65),(14.4,0.95),(14.7,1.35),(14.9,1.95),(15.2,1.15),(15.4,2.45),(15.7,1.45),(15.9,1.05),
    (16.2,1.75),(16.4,0.85),(16.7,2.05),(16.9,1.35),(17.2,1.55),(17.4,2.15),(17.7,1.05),(17.9,1.85),(18.2,1.25),(18.4,2.45),(18.7,1.55),(18.9,0.95),
    (19.2,1.85),(19.4,1.35),(19.7,2.15),(19.9,1.05),(20.2,1.55),(20.4,2.45),(20.7,1.15),(20.9,1.85),(21.2,1.35),(21.7,2.05),(22.2,1.15),(22.7,2.55),
    (23.2,1.45),(23.7,1.85),(24.2,1.25),(24.7,2.25),(25.2,1.65),(25.7,2.05),
    (26,3.1),(26,1.2),(26.5,1.9),(27,1.5),(27,2.3),(28,1.0),(28,1.8),(29,3.75),(29,1.4),(29.5,2.1),(30,1.1),(30,2.7),(31,1.6),(31,2.0),
    (32,1.3),(32,2.4),(33,1.8),(33,1.0),(34,3.1),(34,2.7),(34.5,1.5),(35,2.0),(35,1.2),(36,1.7),(36,2.4),(37,1.4),(37,1.1),(38,2.2),
    (38,1.9),(39,1.3),(39,2.6),(40,1.7),(40,2.0),(41,1.2),(41,2.4),(42,1.6),(42,2.9),(43,1.9),(43,1.3),(44,2.2),(44.6,3.0),(45,1.5),
    (45,2.6),(46,1.8),(46,1.1),(47,2.3),(47,1.6),(48,2.0),(48,2.8),(49,1.4),(49,2.2),(50,1.7),(50,2.5),(51,1.3),(51,2.0),(52,2.4),
    (52,1.6),(53,1.1),(53,2.8),(53.9,4.15),(54,1.9),(55,2.2),(55,1.4),(56,2.6),(56,1.8),(57,3.0),(57,2.1),(58,1.5),(58.6,1.1),(59,2.3),
    (59,3.0),(60,1.8),(60,2.7),
    (26.3,1.55),(27.4,2.65),(28.3,1.35),(29.4,2.35),(30.3,1.75),(31.4,2.55),(32.3,1.15),(33.4,2.15),(34.3,1.85),(35.4,2.55),(36.3,1.25),(37.4,2.05),
    (38.3,1.55),(39.4,2.85),(40.3,1.35),(41.4,1.95),(42.3,2.35),(43.4,1.15),(44.3,1.75),(45.4,2.15),(46.3,2.85),(47.4,1.35),(48.3,1.65),(49.4,2.55),
    (50.3,1.25),(51.4,2.75),(52.3,1.95),(53.4,1.45),(54.3,2.45),(55.4,1.75),(56.3,2.15),(57.4,1.25),(58.3,2.65),(59.4,1.85),(60.3,2.25),(62.4,1.45),
    (64.3,2.65),(66.4,1.35),(68.3,1.95),(70.4,2.45),(72.3,2.05),(74.4,1.75),(76.3,2.75),(78.4,1.95),(80.3,2.25),(82.4,1.65),(84.3,2.85),(86.4,1.45),
    (88.3,2.35),(90.4,2.65),(92.3,1.55),(94.4,3.15),(96.3,2.05),(98.4,2.55),(100.3,1.85),(102.4,2.45),(104.3,2.85),(106.4,1.85),(108.3,2.55),(110.4,3.05),
    (112.3,2.15),(114.4,2.65),(116.3,1.95),(118.3,2.95),(120.3,1.55),(122.4,2.75),(124.3,3.25),(126.4,2.35),(128.3,1.95),(130.4,3.15),(132.3,2.45),(134.4,2.05),
    (136.3,2.85),(138.4,1.65),(140.3,3.35),(142.4,2.65),(144.3,2.25),(146.4,3.05),(148.3,2.15),(149.4,2.55),
    (61,3.0),(61,1.5),(62,2.2),(62,1.9),(63,1.0),(63,2.6),(64,2.0),(64,1.6),(65,2.4),(65,1.3),(66,2.9),(66,1.8),(67,2.1),(68,1.4),
    (68,2.7),(69,2.3),(69.6,3.0),(70,1.7),(70,2.0),(71,2.5),(72,1.5),(72.5,0.95),(73,2.2),(73,1.9),(74,2.8),(74,1.3),(75,2.4),(75.5,3.0),
    (76,1.7),(76,2.0),(77,0.95),(77,2.6),(78,1.6),(78,2.3),(79,2.0),(80,2.9),(80,1.4),(81,2.2),(82,1.05),(82,2.5),(83.2,3.7),(83,1.8),
    (84,2.1),(85,1.5),(85,2.7),(86.2,3.2),(86,2.0),(87,2.4),(87,1.3),(88,1.9),(88.7,0.9),(89,2.6),(90,1.7),(90,2.2),(91,3.1),(91,1.5),
    (92,2.3),(92,2.0),(93,1.2),(93,2.8),(94,1.9),(95,2.4),(95,1.6),(96,2.7),(96,1.1),(97.1,4.15),(97,2.2),(98,1.5),(98,3.0),(99,2.1),
    (99,2.5),(100,1.3),(100.5,4.1),(100,2.8),
    (101.7,4.9),(101,2.2),(102,1.6),(102,3.0),(103,2.5),(103,1.2),(104,3.4),(104.2,0.8),(104,2.0),(105,2.7),(105,1.7),(106,3.8),(106,2.3),
    (107,1.4),(107,2.9),(108.1,5.5),(108.6,1.1),(108,2.1),(109,3.2),(109,1.8),(110,2.6),(110,2.0),(111,1.2),(111,3.5),(112,2.4),(112,1.6),
    (113,2.9),(113,3.1),(114,1.9),(114,0.9),(115,2.2),(115,3.6),(116,3.9),(116,1.5),(117,2.7),(117,2.3),(118,5.7),(118,1.9),(119,3.0),
    (119,1.3),(120.4,4.5),(120,2.5),(121,3.8),(121,2.0),(122,3.3),(122,1.6),(123,2.8),(123,2.2),(124.4,4.2),(124,1.2),(125,3.0),(125,2.6),
    (126,1.9),(126,3.4),(127,2.2),(128,4.2),(128,1.05),(128,2.8),(129,3.1),(129,1.7),(130,2.4),(131,4.2),(131,2.0),(132,3.6),(132,1.5),
    (133,2.7),(133,2.3),(134,1.8),(134,3.2),(135,2.9),(136,2.1),(137.4,4.7),(137,1.6),(138,3.3),(138,2.5),(139,2.0),(140,1.7),(140,2.9),
    (141,3.5),(142,2.4),(142,1.3),(143.4,4.9),(143,2.2),(143,4.1),(144,3.6),(144,1.6),(145,3.8),(145,2.7),(146,2.0),(147,3.1),(148,1.9),
    (148,2.6),(149,3.4),
]

# ---------------- styling ----------------
BLUE = "#1f77b4"
ORANGE = "#ff7f0e"
GREEN = "#008000"
FONT = "Liberation Sans, Arial, Helvetica, sans-serif"

W, H = 1129, 539
ML, MR, MT, MB = 66, 5, 34, 59
PW = W - ML - MR
PH = H - MT - MB
domains = [(0, 330 / PW), (364 / PW, 694 / PW), (728 / PW, 1.0)]

fig = go.Figure()
all_pts = [pts_paint, pts_ink, pts_frame]

for i, pts in enumerate(all_pts):
    sfx = "" if i == 0 else str(i + 1)
    xa, ya = "x" + sfx, "y" + sfx
    lg = "legend" + sfx
    fig.add_trace(go.Scatter(
        x=[p[0] for p in pts], y=[p[1] for p in pts], mode="markers",
        marker=dict(size=3.8, color=BLUE, line=dict(width=0)),
        showlegend=False, hoverinfo="skip", xaxis=xa, yaxis=ya))
    fig.add_trace(go.Scatter(
        x=[None], y=[None], mode="markers", marker=dict(size=7, color=BLUE),
        name="LED scan", legend=lg, xaxis=xa, yaxis=ya))
    fig.add_trace(go.Scatter(
        x=fit_x, y=[intercepts[i] + slopes[i] * v for v in fit_x], mode="lines",
        line=dict(color=ORANGE, width=2), name=f"fit: slope={slopes[i]:.3f}",
        legend=lg, xaxis=xa, yaxis=ya))
    fig.add_shape(type="line", xref=f"{xa} domain", x0=0, x1=1, yref=ya,
                  y0=mip_level, y1=mip_level,
                  line=dict(color=GREEN, width=2, dash="14px,14px"))
    fig.add_annotation(text=titles[i], xref=f"{xa} domain", x=0.5, yref="paper", y=1,
                       xanchor="center", yanchor="bottom", showarrow=False, yshift=-4,
                       font=dict(family=FONT, size=31, color="black"))
    fig.add_annotation(text="Photoelectrons in main cell", xref=f"{xa} domain", x=1,
                       yref="paper", y=(PH - (523 - MT)) / PH, xanchor="right", yanchor="middle",
                       showarrow=False, xshift=1, font=dict(family=FONT, size=26.5, color="black"))

    legend_px = [87, 451, 815][i]
    fig.update_layout({lg: dict(x=(legend_px - ML) / PW, y=1 - (46 - MT) / PH,
                                xanchor="left", yanchor="top", bgcolor="rgba(0,0,0,0)",
                                font=dict(family=FONT, size=22, color="black"),
                                itemwidth=46, tracegroupgap=0, traceorder="normal")})

    xaxis = dict(domain=list(domains[i]), range=[-7.5, 157.5], anchor=ya,
                 tickmode="array", tickvals=x_ticks, ticklabelstandoff=-3,
                 ticks="inside", ticklen=12, tickwidth=1.5, tickcolor="black",
                 mirror="ticks", showline=True, linecolor="black", linewidth=1.6,
                 showgrid=False, zeroline=False,
                 minor=dict(tickmode="linear", tick0=0, dtick=10, ticks="inside",
                            ticklen=7, tickwidth=1.2, tickcolor="black", showgrid=False),
                 tickfont=dict(family=FONT, size=22, color="black"))
    yaxis = dict(domain=[0, 1], range=[0, 28.6], anchor=xa,
                 tickmode="array", tickvals=y_ticks,
                 ticks="inside", ticklen=12, tickwidth=1.5, tickcolor="black",
                 mirror="ticks", showline=True, linecolor="black", linewidth=1.6,
                 showgrid=False, zeroline=False, showticklabels=(i == 0),
                 minor=dict(tickmode="linear", tick0=0, dtick=1, ticks="inside",
                            ticklen=7, tickwidth=1.2, tickcolor="black", showgrid=False),
                 tickfont=dict(family=FONT, size=22, color="black"))
    fig.update_layout({"xaxis" + sfx: xaxis, "yaxis" + sfx: yaxis})

fig.add_annotation(text="Photoelectrons in neighbor cell", xref="paper", x=(21 - ML) / PW,
                   yref="paper", y=1, xanchor="center", yanchor="top", textangle=-90,
                   showarrow=False, yshift=4, font=dict(family=FONT, size=27, color="black"))

fig.add_annotation(text=mip_label, xref="x3", x=140.5, yref="y3", y=mip_level + 0.15,
                   xanchor="right", yanchor="bottom", showarrow=False,
                   font=dict(family=FONT, size=22, color=GREEN))

fig.update_layout(width=W, height=H, margin=dict(l=ML, r=MR, t=MT, b=MB),
                  paper_bgcolor="white", plot_bgcolor="white",
                  font=dict(family=FONT, color="black"))

fig.write_html("out.html", config={"displayModeBar": False},
               post_script="document.body.style.margin='0';document.body.style.padding='0';"
                           "document.body.style.overflow='hidden';")
